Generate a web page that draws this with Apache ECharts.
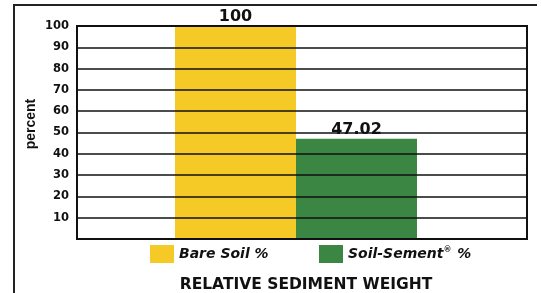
<!DOCTYPE html>
<html lang="en">
<head>
    <meta charset="UTF-8">
    <title>Relative Sediment Weight</title>
    <script src="https://cdn.jsdelivr.net/npm/echarts@6/dist/echarts.min.js"></script>
    <style>
        html, body { margin: 0; padding: 0; background: #fff; }
        #chart { width: 541px; height: 293px; }
    </style>
</head>
<body>
    <div id="chart"></div>
    <script>
        // data
        var categories = ['Relative sediment weight'];
        var bareSoil = [100];
        var soilSement = [47.02];
        var seriesNames = ['Bare Soil %', 'Soil-Sement® %'];

        var wide = 'DejaVu Sans, Verdana, sans-serif';
        var narrow = 'Liberation Sans, Arial, sans-serif';
        var ink = '#111';
        var chart = echarts.init(document.getElementById('chart'));

        function legendAt(x, name) {
            return {
                data: [name],
                left: x, top: 245, padding: 0,
                itemWidth: 24, itemHeight: 18,
                icon: 'rect',
                formatter: function (n) {
                    if (n.indexOf('®') >= 0) return '{t|Soil-Sement}{s|®}{t| %}';
                    return '{t|' + n + '}';
                },
                textStyle: {
                    rich: {
                        t: { fontFamily: wide, fontSize: 14, fontWeight: 'bold', fontStyle: 'italic', color: ink },
                        s: { fontFamily: wide, fontSize: 8, fontWeight: 'bold', fontStyle: 'italic', color: ink, verticalAlign: 'top', padding: [0, 1, 8, 0] }
                    }
                }
            };
        }

        var barLabel = {
            show: true, position: 'top', distance: 1,
            fontFamily: wide, fontSize: 16, fontWeight: 'bold', color: ink,
            formatter: function (p) { return p.value === 100 ? '100' : p.value.toFixed(2); }
        };

        var option = {
            animation: false,
            grid: [
                { left: 77, top: 26, right: 14, bottom: 54, show: true, borderColor: ink, borderWidth: 2, z: 5 },
                { left: 77, top: 26, right: 26, bottom: 54 }
            ],
            title: {
                text: 'RELATIVE SEDIMENT WEIGHT',
                left: 301, top: 272, textAlign: 'center',
                textStyle: { fontFamily: wide, fontSize: 15.5, fontWeight: 'bold', color: ink }
            },
            legend: [legendAt(150, seriesNames[0]), legendAt(319, seriesNames[1])],
            xAxis: [
                { type: 'category', gridIndex: 0, data: categories, show: false },
                { type: 'category', gridIndex: 1, data: categories, show: false }
            ],
            yAxis: [
                {
                    type: 'value', gridIndex: 0,
                    min: 0, max: 100, interval: 10,
                    z: 5,
                    axisLine: { show: false },
                    axisTick: { show: false },
                    axisLabel: {
                        fontFamily: wide, fontSize: 11.5, fontWeight: 'bold', color: ink, margin: 8,
                        formatter: function (v) { return v === 0 ? '' : v; }
                    },
                    splitLine: { lineStyle: { color: ink, width: 1.5 } }
                },
                { type: 'value', gridIndex: 1, min: 0, max: 100, show: false, splitLine: { show: false } }
            ],
            series: [
                {
                    name: seriesNames[0], type: 'bar', data: bareSoil,
                    xAxisIndex: 1, yAxisIndex: 1,
                    barWidth: 121, barGap: '0%',
                    itemStyle: { color: '#F5C926' },
                    label: barLabel
                },
                {
                    name: seriesNames[1], type: 'bar', data: soilSement,
                    xAxisIndex: 1, yAxisIndex: 1,
                    barWidth: 121,
                    itemStyle: { color: '#3C8643' },
                    label: barLabel
                }
            ],
            graphic: [
                {
                    type: 'polyline',
                    shape: { points: [[14, 300], [14, 5], [537, 5]] },
                    style: { stroke: '#222', lineWidth: 2, fill: null },
                    silent: true
                },
                {
                    type: 'text',
                    x: 31, y: 124, rotation: Math.PI / 2,
                    style: {
                        text: 'percent', fontFamily: narrow, fontSize: 14, fontWeight: 'bold',
                        fill: ink, align: 'center', verticalAlign: 'middle'
                    },
                    silent: true
                }
            ]
        };

        chart.setOption(option);
    </script>
</body>
</html>
